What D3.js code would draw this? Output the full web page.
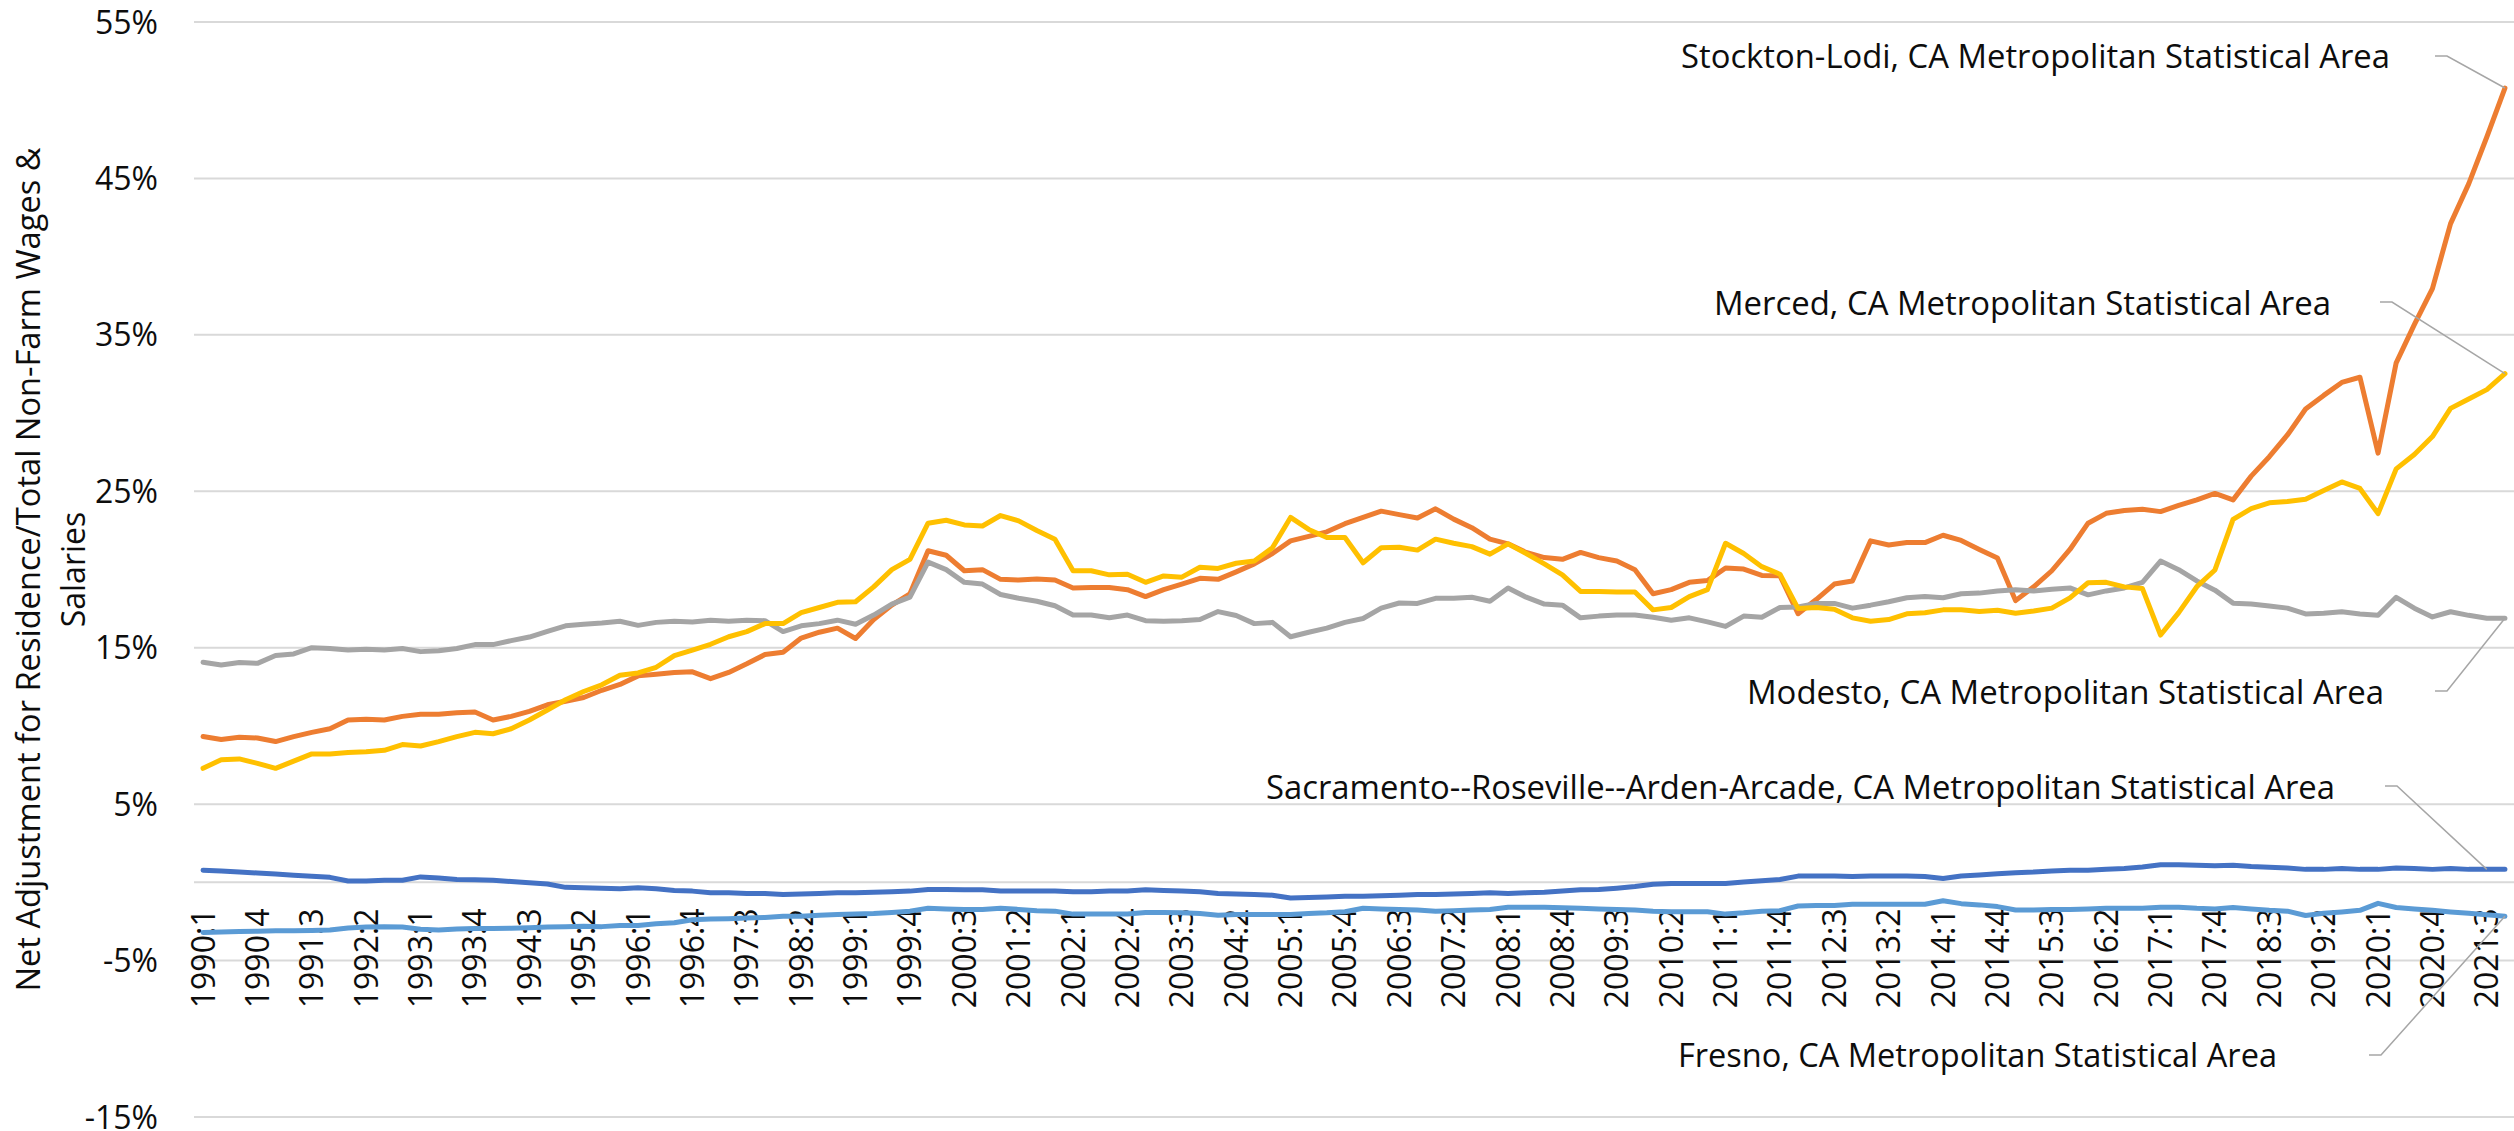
<!DOCTYPE html>
<html>
<head>
<meta charset="utf-8">
<script src="https://cdn.jsdelivr.net/npm/d3@7"></script>
<style>
  html, body { margin: 0; padding: 0; background: #ffffff; }
  svg { display: block; }
  text { font-family: "Open Sans", "Noto Sans", sans-serif; fill: #0d0d0d; }
</style>
</head>
<body>
<svg id="chart" width="2514" height="1131"></svg>
<script>
// Quarterly categories 1990:1 .. 2021:4
const quarters = [];
for (let y = 1990; y <= 2021; y++) {
  for (let q = 1; q <= 4; q++) quarters.push(`${y}:${q}`);
}

// Net adjustment for residence as % of total non-farm wages & salaries
const sacramento = [
  0.78, 0.72, 0.66, 0.60, 0.53, 0.46, 0.39, 0.32, 0.09, 0.09, 0.14, 0.14, 0.35, 0.28, 0.18, 0.16,
  0.14, 0.05, -0.02, -0.10, -0.32, -0.34, -0.38, -0.41, -0.34, -0.41, -0.52, -0.56, -0.67, -0.67, -0.71, -0.71,
  -0.78, -0.74, -0.71, -0.67, -0.67, -0.63, -0.60, -0.56, -0.45, -0.45, -0.48, -0.48, -0.56, -0.56, -0.56, -0.56,
  -0.60, -0.60, -0.56, -0.56, -0.48, -0.52, -0.56, -0.60, -0.71, -0.74, -0.78, -0.82, -1.00, -0.97, -0.93, -0.89,
  -0.89, -0.85, -0.82, -0.78, -0.78, -0.74, -0.71, -0.67, -0.71, -0.67, -0.63, -0.56, -0.48, -0.45, -0.37, -0.27,
  -0.12, -0.08, -0.08, -0.08, -0.08, 0.03, 0.10, 0.18, 0.40, 0.40, 0.40, 0.37, 0.40, 0.40, 0.40, 0.37,
  0.25, 0.40, 0.47, 0.55, 0.62, 0.66, 0.73, 0.77, 0.77, 0.84, 0.88, 0.98, 1.13, 1.13, 1.09, 1.06,
  1.10, 1.01, 0.97, 0.92, 0.83, 0.83, 0.88, 0.83, 0.83, 0.92, 0.88, 0.83, 0.88, 0.83, 0.83, 0.83
];

const stockton = [
  9.32, 9.13, 9.27, 9.23, 9.00, 9.32, 9.59, 9.82, 10.38, 10.43, 10.38, 10.61, 10.75, 10.75, 10.84, 10.89,
  10.38, 10.61, 10.93, 11.35, 11.58, 11.82, 12.28, 12.65, 13.20, 13.31, 13.42, 13.46, 13.02, 13.42, 13.97, 14.56,
  14.71, 15.62, 15.99, 16.25, 15.59, 16.80, 17.72, 18.45, 21.20, 20.91, 19.92, 19.99, 19.37, 19.33, 19.40, 19.33,
  18.82, 18.85, 18.85, 18.71, 18.27, 18.71, 19.07, 19.44, 19.37, 19.85, 20.36, 21.02, 21.83, 22.12, 22.41, 22.93,
  23.33, 23.73, 23.51, 23.29, 23.88, 23.22, 22.67, 21.94, 21.64, 21.09, 20.76, 20.65, 21.09, 20.76, 20.54, 19.99,
  18.45, 18.71, 19.18, 19.29, 20.10, 20.03, 19.62, 19.60, 17.17, 18.08, 19.07, 19.26, 21.83, 21.57, 21.72, 21.72,
  22.19, 21.86, 21.28, 20.73, 18.01, 18.89, 19.92, 21.28, 22.96, 23.59, 23.77, 23.85, 23.70, 24.10, 24.45, 24.86,
  24.45, 25.97, 27.21, 28.60, 30.26, 31.13, 31.96, 32.29, 27.44, 33.21, 35.65, 37.96, 42.11, 44.65, 47.65, 50.78
];

const modesto = [
  14.07, 13.90, 14.05, 14.00, 14.50, 14.60, 15.00, 14.95, 14.85, 14.90, 14.85, 14.95, 14.75, 14.80, 14.95, 15.20,
  15.20, 15.45, 15.68, 16.05, 16.40, 16.50, 16.58, 16.69, 16.43, 16.62, 16.69, 16.65, 16.76, 16.69, 16.76, 16.73,
  16.03, 16.40, 16.54, 16.76, 16.50, 17.09, 17.79, 18.23, 20.47, 19.99, 19.18, 19.07, 18.40, 18.16, 17.97, 17.68,
  17.09, 17.09, 16.91, 17.09, 16.73, 16.69, 16.73, 16.80, 17.31, 17.06, 16.54, 16.62, 15.70, 15.99, 16.25, 16.62,
  16.87, 17.53, 17.86, 17.83, 18.16, 18.16, 18.23, 17.97, 18.82, 18.23, 17.79, 17.72, 16.91, 17.02, 17.09, 17.09,
  16.95, 16.76, 16.91, 16.65, 16.36, 17.02, 16.95, 17.57, 17.60, 17.83, 17.83, 17.53, 17.72, 17.94, 18.19, 18.27,
  18.19, 18.45, 18.49, 18.63, 18.71, 18.63, 18.74, 18.82, 18.38, 18.63, 18.82, 19.18, 20.54, 19.99, 19.27, 18.68,
  17.85, 17.80, 17.66, 17.53, 17.16, 17.20, 17.30, 17.16, 17.07, 18.22, 17.53, 16.97, 17.30, 17.07, 16.88, 16.88
];

const merced = [
  7.29, 7.84, 7.89, 7.61, 7.29, 7.75, 8.21, 8.21, 8.30, 8.35, 8.44, 8.81, 8.72, 9.00, 9.32, 9.59,
  9.50, 9.82, 10.38, 11.02, 11.67, 12.20, 12.63, 13.24, 13.39, 13.75, 14.49, 14.85, 15.22, 15.70, 16.03, 16.54,
  16.54, 17.24, 17.57, 17.90, 17.94, 18.89, 19.99, 20.65, 22.96, 23.15, 22.85, 22.78, 23.45, 23.11, 22.49, 21.94,
  19.92, 19.92, 19.66, 19.70, 19.18, 19.59, 19.51, 20.14, 20.07, 20.40, 20.54, 21.39, 23.33, 22.56, 22.05, 22.05,
  20.43, 21.39, 21.42, 21.24, 21.94, 21.68, 21.46, 20.98, 21.64, 21.02, 20.36, 19.66, 18.60, 18.60, 18.56, 18.56,
  17.42, 17.57, 18.27, 18.71, 21.68, 21.02, 20.18, 19.70, 17.50, 17.57, 17.46, 16.91, 16.69, 16.80, 17.17, 17.24,
  17.42, 17.42, 17.31, 17.39, 17.20, 17.35, 17.53, 18.19, 19.15, 19.18, 18.89, 18.78, 15.81, 17.24, 18.90, 19.97,
  23.20, 23.89, 24.26, 24.35, 24.49, 25.05, 25.60, 25.18, 23.57, 26.43, 27.35, 28.50, 30.30, 30.90, 31.50, 32.52
];

const fresno = [
  -3.20, -3.18, -3.14, -3.12, -3.09, -3.09, -3.07, -3.05, -2.92, -2.86, -2.84, -2.86, -3.00, -3.05, -2.98, -2.95,
  -2.95, -2.93, -2.90, -2.86, -2.84, -2.80, -2.83, -2.76, -2.76, -2.65, -2.58, -2.39, -2.35, -2.32, -2.28, -2.24,
  -2.17, -2.17, -2.10, -2.06, -2.03, -1.99, -1.92, -1.84, -1.66, -1.70, -1.73, -1.73, -1.66, -1.73, -1.81, -1.84,
  -2.03, -2.03, -2.03, -2.03, -1.92, -1.92, -1.95, -1.99, -2.10, -2.06, -2.06, -2.06, -2.06, -1.99, -1.95, -1.88,
  -1.66, -1.70, -1.73, -1.77, -1.84, -1.81, -1.77, -1.73, -1.59, -1.59, -1.59, -1.62, -1.66, -1.70, -1.73, -1.77,
  -1.84, -1.88, -1.88, -1.88, -2.03, -1.95, -1.84, -1.81, -1.51, -1.48, -1.48, -1.40, -1.40, -1.40, -1.40, -1.40,
  -1.18, -1.36, -1.44, -1.55, -1.77, -1.77, -1.73, -1.73, -1.70, -1.66, -1.66, -1.66, -1.59, -1.59, -1.66, -1.70,
  -1.61, -1.70, -1.79, -1.84, -2.12, -1.98, -1.89, -1.79, -1.34, -1.61, -1.70, -1.79, -1.89, -1.98, -2.07, -2.17
];

// Value-axis ticks (percent)
const yTicks = [55, 45, 35, 25, 15, 5, -5, -15];

// Every third quarter gets a category label
const xTickLabels = quarters.filter((d, i) => i % 3 === 0);

const seriesNames = [
  "Sacramento--Roseville--Arden-Arcade, CA Metropolitan Statistical Area",
  "Stockton-Lodi, CA Metropolitan Statistical Area",
  "Modesto, CA Metropolitan Statistical Area",
  "Merced, CA Metropolitan Statistical Area",
  "Fresno, CA Metropolitan Statistical Area"
];
const seriesValues = [sacramento, stockton, modesto, merced, fresno];
const seriesColors = ["#4472C4", "#ED7D31", "#A5A5A5", "#FFC000", "#5B9BD5"];

// ---- layout ----
const W = 2514, H = 1131;
const plot = { left: 194, right: 2514, top: 22, bottom: 1117 };

const svg = d3.select("#chart");

const x = d3.scalePoint()
  .domain(quarters)
  .range([plot.left, plot.right])
  .padding(0.5);

const y = d3.scaleLinear()
  .domain([-15, 55])
  .range([plot.bottom, plot.top]);

// Horizontal gridlines
svg.append("g")
  .selectAll("line")
  .data(yTicks)
  .join("line")
  .attr("x1", plot.left)
  .attr("x2", plot.right)
  .attr("y1", d => y(d))
  .attr("y2", d => y(d))
  .attr("stroke", "#D9D9D9")
  .attr("stroke-width", 2);

// Category axis line at zero
svg.append("line")
  .attr("x1", plot.left)
  .attr("x2", plot.right)
  .attr("y1", y(0))
  .attr("y2", y(0))
  .attr("stroke", "#D9D9D9")
  .attr("stroke-width", 2);

// Value-axis tick labels
svg.append("g")
  .selectAll("text")
  .data(yTicks)
  .join("text")
  .attr("x", 158)
  .attr("y", d => y(d) + 11.5)
  .attr("text-anchor", "end")
  .attr("font-size", 32)
  .text(d => `${d}%`);

// Category labels, rotated to read upward, hanging just below the zero line
svg.append("g")
  .selectAll("text")
  .data(xTickLabels)
  .join("text")
  .attr("transform", d => `translate(${x(d) + 11.5},${y(0) + 26}) rotate(-90)`)
  .attr("text-anchor", "end")
  .attr("font-size", 32)
  .text(d => d);

// Value-axis title (two lines)
const titleLines = ["Net Adjustment for Residence/Total Non-Farm Wages &", "Salaries"];
const titleCy = (plot.top + plot.bottom) / 2;
svg.append("g")
  .selectAll("text")
  .data(titleLines)
  .join("text")
  .attr("transform", (d, i) => `translate(${39.5 + i * 45.5},${titleCy}) rotate(-90)`)
  .attr("text-anchor", "middle")
  .attr("font-size", 32)
  .attr("textLength", (d, i) => i === 0 ? 844 : null)
  .attr("lengthAdjust", "spacingAndGlyphs")
  .text(d => d);

// Series lines
const line = d3.line()
  .x((d, i) => x(quarters[i]))
  .y(d => y(d));

svg.append("g")
  .selectAll("path")
  .data(seriesValues)
  .join("path")
  .attr("d", d => line(d))
  .attr("fill", "none")
  .attr("stroke", (d, i) => seriesColors[i])
  .attr("stroke-width", 5)
  .attr("stroke-linejoin", "round")
  .attr("stroke-linecap", "round");

// Series name callouts with leader lines to the line ends
const callouts = [
  { s: 0, tx: 1266, ty: 799, len: 1069, fs: 33, lx: 2385, ly: 786, at: 126 },
  { s: 1, tx: 1681, ty: 68, len: 709, fs: 33, lx: 2435, ly: 56, at: 127 },
  { s: 2, tx: 1747, ty: 704, len: 637, fs: 33, lx: 2435, ly: 691, at: 127 },
  { s: 3, tx: 1714, ty: 315, len: 617, fs: 33, lx: 2380, ly: 302, at: 127 },
  { s: 4, tx: 1678, ty: 1067, len: 599, fs: 32, lx: 2369, ly: 1055, at: 127 }
];

svg.append("g")
  .selectAll("path")
  .data(callouts)
  .join("path")
  .attr("d", c => `M${c.lx},${c.ly}H${c.lx + 12}L${x(quarters[c.at])},${y(seriesValues[c.s][c.at])}`)
  .attr("fill", "none")
  .attr("stroke", "#A6A6A6")
  .attr("stroke-width", 1.5);

svg.append("g")
  .selectAll("text")
  .data(callouts)
  .join("text")
  .attr("x", c => c.tx)
  .attr("y", c => c.ty)
  .attr("font-size", c => c.fs)
  .attr("textLength", c => c.len)
  .attr("lengthAdjust", "spacingAndGlyphs")
  .text(c => seriesNames[c.s]);
</script>
</body>
</html>
